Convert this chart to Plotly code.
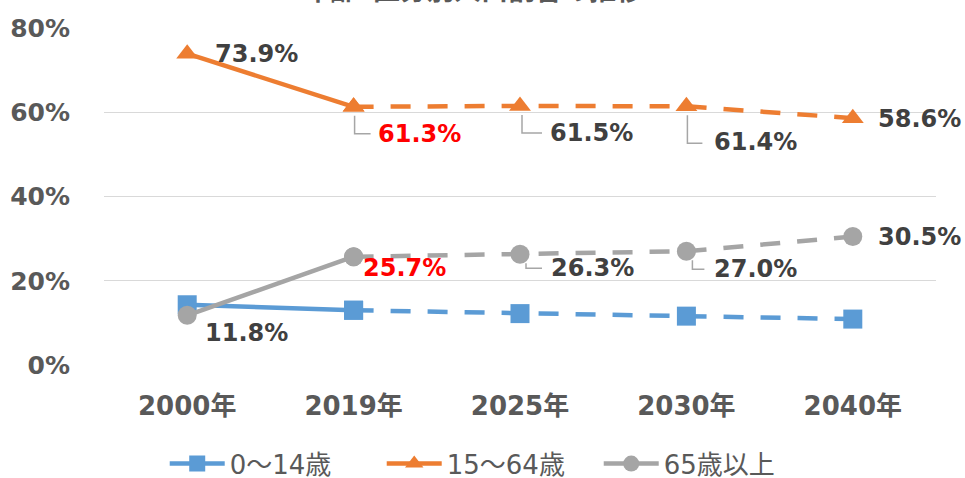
import plotly.graph_objects as go

# ---- data ----
categories = ["2000年", "2019年", "2025年", "2030年", "2040年"]
young = [0.143, 0.130, 0.122, 0.116, 0.109]      # 0～14歳
working = [0.739, 0.613, 0.615, 0.614, 0.586]    # 15～64歳
elderly = [0.118, 0.257, 0.263, 0.270, 0.305]    # 65歳以上
series_names = ["0～14歳", "15～64歳", "65歳以上"]
title_text = "年齢3区分別人口割合の推移"

# ---- styles ----
colors = ["#5B9BD5", "#ED7D31", "#A5A5A5"]
symbols = ["square", "triangle-up", "circle"]
LABEL_FONT = "DejaVu Sans, Noto Sans CJK JP"
TEXT_GREY = "#404040"
AXIS_GREY = "#595959"
DASH = "20px,17px"

fig = go.Figure()

for name, vals, col, sym in zip(series_names, [young, working, elderly], colors, symbols):
    fig.add_trace(go.Scatter(
        x=categories[1:], y=vals[1:], mode="lines+markers",
        line=dict(color=col, width=4.5, dash=DASH),
        marker=dict(symbol=sym, size=19, color=col),
        showlegend=False, hoverinfo="skip"))
for name, vals, col, sym in zip(series_names, [young, working, elderly], colors, symbols):
    fig.add_trace(go.Scatter(
        x=categories[:2], y=vals[:2], mode="lines+markers", name=name,
        line=dict(color=col, width=4.5),
        marker=dict(symbol=sym, size=19, color=col)))

# ---- data labels (pixel offsets: dx to text left, dy text centre, leader) ----
label_specs = [
    (working, 0, 26, 0, TEXT_GREY, None),
    (working, 1, 22, -27, "#FF0000", (1, -27, 17)),
    (working, 2, 28, -27, TEXT_GREY, (2, -27, 22)),
    (working, 3, 26, -36, TEXT_GREY, (1, -37, 16)),
    (working, 4, 23, -1, TEXT_GREY, None),
    (elderly, 0, 16, -18, TEXT_GREY, None),
    (elderly, 1, 7, -11, "#FF0000", None),
    (elderly, 2, 29, -14, TEXT_GREY, (6, -14, 22)),
    (elderly, 3, 26, -18, TEXT_GREY, (6, -18, 18)),
    (elderly, 4, 23, 0, TEXT_GREY, None),
]
for vals, i, xs, ys, col, leader in label_specs:
    fig.add_annotation(
        x=categories[i], y=vals[i], xref="x", yref="y",
        text=f"{vals[i]*100:.1f}%", showarrow=False,
        xanchor="left", yanchor="middle", xshift=xs, yshift=ys,
        font=dict(family=LABEL_FONT, size=24, color=col, weight="bold"))
    if leader:
        dxv, dye, dxe = leader
        fig.add_shape(
            type="path", xref="x", yref="y",
            xsizemode="pixel", ysizemode="pixel",
            xanchor=i, yanchor=vals[i],
            path=f"M {dxv},-9 L {dxv},{dye} L {dxe},{dye}",
            line=dict(color="#A6A6A6", width=1.5), layer="below")

# cut-off title at the very top
fig.add_annotation(
    x=0.4435, y=1.054, xref="paper", yref="paper", text=title_text,
    showarrow=False, xanchor="center", yanchor="bottom",
    font=dict(family="Noto Sans CJK JP", size=27, color=AXIS_GREY, weight="bold"))

fig.update_layout(
    width=965, height=478,
    margin=dict(l=104, r=29, t=28, b=113),
    paper_bgcolor="white", plot_bgcolor="white",
    showlegend=True,
    legend=dict(orientation="h", xref="container", yref="container",
                x=0.508, y=0.03, xanchor="center", yanchor="middle",
                font=dict(family=LABEL_FONT, size=26, color=AXIS_GREY),
                itemwidth=55, entrywidth=147, tracegroupgap=0),
    xaxis=dict(type="category", categoryorder="array", categoryarray=categories,
               showgrid=False, showline=False, zeroline=False, automargin=False,
               ticks="outside", ticklen=18, tickcolor="rgba(0,0,0,0)",
               tickfont=dict(family=LABEL_FONT, size=26, color=AXIS_GREY, weight="bold"),
               range=[-0.5, 4.5]),
    yaxis=dict(range=[0, 0.8], dtick=0.2, tickformat=".0%", automargin=False,
               showgrid=True, gridcolor="#D9D9D9", gridwidth=1.2,
               zeroline=False, showline=False,
               ticks="outside", ticklen=28, tickcolor="rgba(0,0,0,0)",
               tickfont=dict(family=LABEL_FONT, size=25, color=AXIS_GREY, weight="bold")),
)

fig.write_html("out.html", config={"displayModeBar": False},
               post_script="document.body.style.margin='0';")
